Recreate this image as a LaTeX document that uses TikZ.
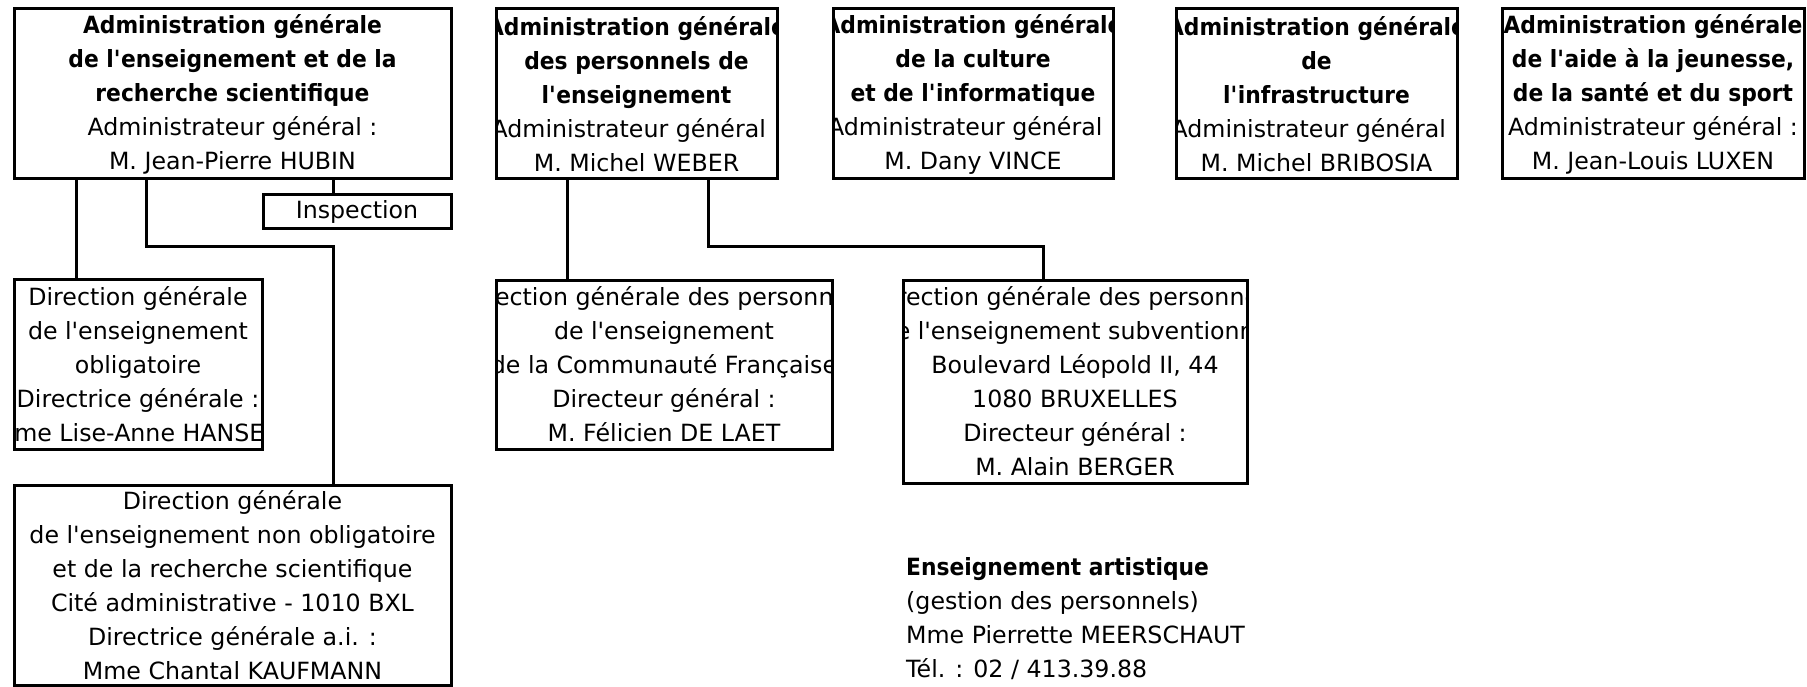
\documentclass[tikz,border=0pt]{standalone}
\usepackage{fontspec}
\setmainfont{DejaVu Sans}[BoldFeatures={FakeStretch=0.92}]
\usetikzlibrary{fit}
\tikzset{
  orgbox/.style={draw, line width=3pt, inner sep=0pt, outer sep=0pt},
  orgtxt/.style={align=center, inner sep=0pt, font=\fontsize{23.7}{34}\selectfont},
  link/.style={line width=3pt},
}
\newcommand\ap{\textquotesingle}
\newcommand\orgunit[6]{%
  \begin{scope}
    \clip (#2,#3) rectangle (#4,#5);
    \node[orgtxt] (#1t) at ({(#2+#4)/2},{(#3+#5)/2}) {#6};
  \end{scope}
  \node[orgbox, fit={(#2,#3) (#4,#5)}] (#1) {};
}
\begin{document}
\begin{tikzpicture}[x=1pt,y=-1pt]
\useasboundingbox (0,0) rectangle (1807,687);

\orgunit{b1}{14}{9}{451}{179}{\textbf{Administration générale}\\\textbf{de l\ap enseignement et de la}\\\textbf{recherche scientifique}\\Administrateur général :\\M. Jean-Pierre HUBIN}
\orgunit{insp}{263}{195}{451}{229}{Inspection}
\orgunit{b2}{496}{9}{777}{179}{\textbf{Administration générale}\\\textbf{des personnels de}\\\textbf{l\ap enseignement}\\Administrateur général :\\M. Michel WEBER}
\orgunit{b3}{833}{9}{1113}{179}{\textbf{Administration générale}\\\textbf{de la culture}\\\textbf{et de l\ap informatique}\\Administrateur général :\\M. Dany VINCE}
\orgunit{b4}{1176}{9}{1457}{179}{\textbf{Administration générale}\\\textbf{de}\\\textbf{l\ap infrastructure}\\Administrateur général :\\M. Michel BRIBOSIA}
\orgunit{b5}{1502}{9}{1804}{179}{\textbf{Administration générale}\\\textbf{de l\ap aide à la jeunesse,}\\\textbf{de la santé et du sport}\\Administrateur général :\\M. Jean-Louis LUXEN}

\orgunit{dgeo}{14}{279}{262}{449}{Direction générale\\de l\ap enseignement\\obligatoire\\Directrice générale :\\Mme Lise-Anne HANSEN}
\orgunit{dgens}{14}{485}{451}{685}{Direction générale\\de l\ap enseignement non obligatoire\\et de la recherche scientifique\\Cité administrative - 1010 BXL\\Directrice générale a.i. :\\Mme Chantal KAUFMANN}
\orgunit{dgpe}{496}{280}{832}{449}{Direction générale des personnels\\de l\ap enseignement\\de la Communauté Française\\Directeur général :\\M. Félicien DE LAET}
\orgunit{dgpes}{903}{280}{1247}{483}{Direction générale des personnels\\de l\ap enseignement subventionné\\Boulevard Léopold II, 44\\1080 BRUXELLES\\Directeur général :\\M. Alain BERGER}

\node[orgtxt, align=left, anchor=north west] (art) at (906,557)
  {\textbf{Enseignement artistique}\\(gestion des personnels)\\Mme Pierrette MEERSCHAUT\\Tél. : 02 / 413.39.88};

% connectors
\draw[link] (76,0 |- b1.south) -- (76,0 |- dgeo.north);
\draw[link] (146,0 |- b1.south) -- (146,246) -- (333,246) -- (333,0 |- dgens.north);
\draw[link] (333,0 |- b1.south) -- (333,0 |- insp.north);
\draw[link] (567,0 |- b2.south) -- (567,0 |- dgpe.north);
\draw[link] (708,0 |- b2.south) -- (708,246) -- (1043,246) -- (1043,0 |- dgpes.north);
\end{tikzpicture}
\end{document}
